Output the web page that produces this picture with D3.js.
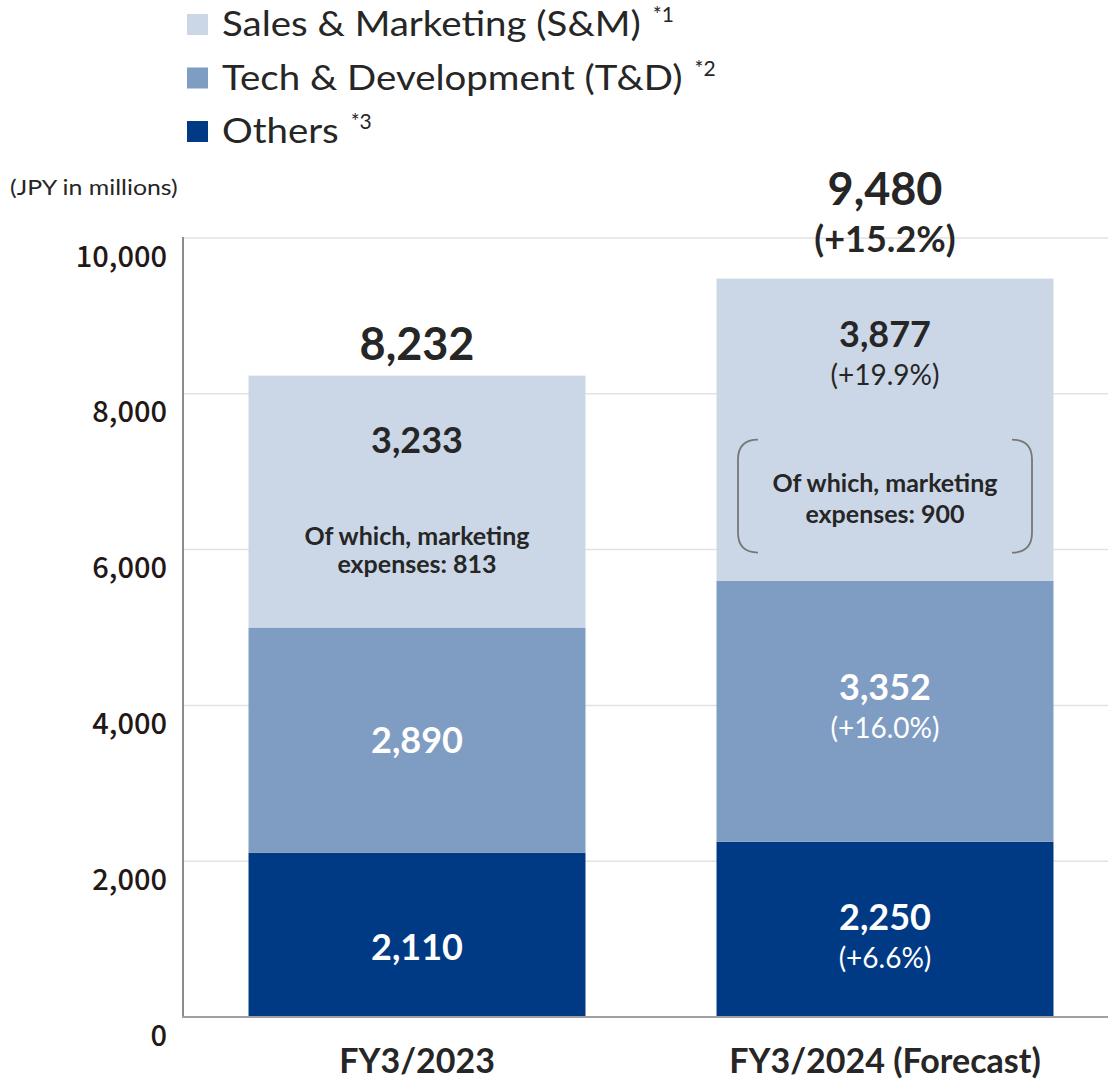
<!DOCTYPE html>
<html>
<head>
<meta charset="utf-8">
<script src="https://cdn.jsdelivr.net/npm/d3@7"></script>
<style>
  html, body { margin: 0; padding: 0; background: #fff; }
  svg { display: block; }
  text { font-family: Lato, "Open Sans", sans-serif; }
</style>
</head>
<body>
<svg id="chart" width="1108" height="1080"></svg>
<script>
// data
const years = ["FY3/2023", "FY3/2024 (Forecast)"];
const others = [2110, 2250];
const techDev = [2890, 3352];
const salesMkt = [3233, 3877];
const totals = [8232, 9480];
const totalGrowth = [null, "(+15.2%)"];
const othersGrowth = [null, "(+6.6%)"];
const techGrowth = [null, "(+16.0%)"];
const salesGrowth = [null, "(+19.9%)"];
const marketing = [813, 900];
const yTicks = [0, 2000, 4000, 6000, 8000, 10000];
const legendNames = ["Sales & Marketing (S&M)", "Tech & Development (T&D)", "Others"];
const legendNotes = ["*1", "*2", "*3"];

const colors = {
    sales: "#cbd7e6",
    tech: "#7f9cc3",
    others: "#013a84"
};
const darkText = "#262626";
// the source font is wider than Lato, stretch plain texts a bit
const stretch = 1.13;

const svg = d3.select("#chart");

const x = d3.scaleBand()
    .domain(years)
    .range([183, 1119])
    .paddingInner(0.28)
    .paddingOuter(0.14);

const y = d3.scaleLinear()
    .domain([0, 10000])
    .range([1017, 238]);

const fmt = d3.format(",");

function widen(sel) {
    sel.each(function () {
        const w = this.getComputedTextLength();
        d3.select(this)
            .attr("textLength", w * stretch)
            .attr("lengthAdjust", "spacingAndGlyphs");
    });
}

// gridlines
svg.append("g")
    .selectAll("line")
    .data(yTicks.filter(d => d > 0))
    .join("line")
    .attr("x1", 184)
    .attr("x2", 1108)
    .attr("y1", d => y(d))
    .attr("y2", d => y(d))
    .attr("stroke", "#e2e2e2")
    .attr("stroke-width", 1.5);

// stacked series
const series = [
    { key: "others", values: others, growth: othersGrowth, color: colors.others, textColor: "#fff", shift: 12 },
    { key: "tech", values: techDev, growth: techGrowth, color: colors.tech, textColor: "#fff", shift: 0 },
    { key: "sales", values: salesMkt, growth: salesGrowth, color: colors.sales, textColor: darkText, shift: 0 }
];

let base = years.map(() => 0);
series.forEach(s => {
    s.segs = years.map((yr, i) => {
        const seg = { year: yr, i, y0: base[i], y1: base[i] + s.values[i], v: s.values[i] };
        base[i] = seg.y1;
        return seg;
    });
});

const bars = svg.append("g");
series.forEach(s => {
    bars.selectAll(null)
        .data(s.segs)
        .join("rect")
        .attr("x", d => x(d.year))
        .attr("width", x.bandwidth())
        .attr("y", d => y(d.y1))
        .attr("height", d => y(d.y0) - y(d.y1))
        .attr("fill", s.color);
});

// axes
const yAxis = svg.append("g")
    .attr("transform", "translate(183,0)")
    .call(d3.axisLeft(y).tickValues(yTicks).tickFormat(fmt).tickSize(0));
yAxis.select(".domain").remove();
yAxis.selectAll(".tick text")
    .attr("x", -16)
    .attr("dy", 28)
    .attr("text-anchor", "end")
    .style("font-family", "'Noto Sans CJK JP', 'Noto Sans', sans-serif")
    .style("font-weight", 500)
    .style("font-size", "29px")
    .attr("fill", "#231815");

svg.append("line")
    .attr("x1", 183).attr("x2", 183)
    .attr("y1", y(10000) - 1).attr("y2", y(0) + 1)
    .attr("stroke", "#8c8c8c").attr("stroke-width", 2);
svg.append("line")
    .attr("x1", 182).attr("x2", 1108)
    .attr("y1", y(0)).attr("y2", y(0))
    .attr("stroke", "#a0a0a0").attr("stroke-width", 2);

const xAxis = svg.append("g")
    .attr("transform", "translate(0," + y(0) + ")")
    .call(d3.axisBottom(x).tickSize(0));
xAxis.select(".domain").remove();
xAxis.selectAll(".tick text")
    .attr("y", 56)
    .attr("dy", 0)
    .style("font-family", "Lato, sans-serif")
    .style("font-weight", 700)
    .style("font-size", "34px")
    .attr("fill", darkText);

// segment labels
const labels = svg.append("g").attr("text-anchor", "middle");
series.forEach(s => {
    s.segs.forEach(d => {
        const cx = x(d.year) + x.bandwidth() / 2;
        const cy = (y(d.y0) + y(d.y1)) / 2;
        const g = s.growth[d.i];
        if (s.key === "sales") {
            if (g) {
                labels.append("text").attr("x", cx).attr("y", cy - 83)
                    .attr("font-size", 36).attr("font-weight", 700).attr("fill", s.textColor)
                    .text(fmt(d.v));
                labels.append("text").attr("x", cx).attr("y", cy - 45)
                    .attr("font-size", 28).attr("fill", s.textColor)
                    .text(g);
                drawBracketNote(cx, cy + 10, marketing[d.i]);
            } else {
                labels.append("text").attr("x", cx).attr("y", cy - 49)
                    .attr("font-size", 36).attr("font-weight", 700).attr("fill", s.textColor)
                    .text(fmt(d.v));
                labels.append("text").attr("x", cx).attr("y", cy + 43)
                    .attr("font-size", 25).attr("font-weight", 700).attr("fill", darkText)
                    .text("Of which, marketing");
                labels.append("text").attr("x", cx).attr("y", cy + 71)
                    .attr("font-size", 25).attr("font-weight", 700).attr("fill", darkText)
                    .text("expenses: " + marketing[d.i]);
            }
        } else if (g) {
            labels.append("text").attr("x", cx).attr("y", cy - 11 + s.shift)
                .attr("font-size", 36).attr("font-weight", 700).attr("fill", s.textColor)
                .text(fmt(d.v));
            labels.append("text").attr("x", cx).attr("y", cy + 27 + s.shift)
                .attr("font-size", 28).attr("fill", s.textColor)
                .text(g);
        } else {
            labels.append("text").attr("x", cx).attr("y", cy + 13 + s.shift)
                .attr("font-size", 36).attr("font-weight", 700).attr("fill", s.textColor)
                .text(fmt(d.v));
        }
    });
});

function drawBracketNote(cx, top, value) {
    const h = 113, halfW = 147, r = 20;
    const gb = labels.append("g");
    // left and right round brackets
    gb.append("path")
        .attr("d", "M" + (cx - halfW + r) + "," + top +
            " Q" + (cx - halfW) + "," + top + " " + (cx - halfW) + "," + (top + r) +
            " L" + (cx - halfW) + "," + (top + h - r) +
            " Q" + (cx - halfW) + "," + (top + h) + " " + (cx - halfW + r) + "," + (top + h))
        .attr("fill", "none").attr("stroke", "#777").attr("stroke-width", 1.8);
    gb.append("path")
        .attr("d", "M" + (cx + halfW - r) + "," + top +
            " Q" + (cx + halfW) + "," + top + " " + (cx + halfW) + "," + (top + r) +
            " L" + (cx + halfW) + "," + (top + h - r) +
            " Q" + (cx + halfW) + "," + (top + h) + " " + (cx + halfW - r) + "," + (top + h))
        .attr("fill", "none").attr("stroke", "#777").attr("stroke-width", 1.8);
    gb.append("text").attr("x", cx).attr("y", top + 52)
        .attr("font-size", 25).attr("font-weight", 700).attr("fill", darkText)
        .text("Of which, marketing");
    gb.append("text").attr("x", cx).attr("y", top + 83)
        .attr("font-size", 25).attr("font-weight", 700).attr("fill", darkText)
        .text("expenses: " + value);
}

// totals
years.forEach((yr, i) => {
    const cx = x(yr) + x.bandwidth() / 2;
    const top = y(base[i]);
    if (totalGrowth[i]) {
        labels.append("text").attr("x", cx).attr("y", top - 74)
            .attr("font-size", 45).attr("font-weight", 700).attr("fill", darkText)
            .text(fmt(totals[i]));
        labels.append("text").attr("x", cx).attr("y", top - 27)
            .attr("font-size", 36).attr("font-weight", 700).attr("fill", darkText)
            .text(totalGrowth[i]);
    } else {
        labels.append("text").attr("x", cx).attr("y", top - 16)
            .attr("font-size", 45).attr("font-weight", 700).attr("fill", darkText)
            .text(fmt(totals[i]));
    }
});

// unit label
svg.append("text")
    .attr("x", 10).attr("y", 195)
    .attr("font-size", 22).attr("fill", darkText)
    .text("(JPY in millions)")
    .call(widen);

// legend
const legendColors = [colors.sales, colors.tech, colors.others];
const legend = svg.append("g")
    .selectAll("g")
    .data(legendNames)
    .join("g")
    .attr("transform", (d, i) => "translate(187," + (36 + i * 53.5) + ")");

legend.append("rect")
    .attr("x", 0).attr("y", -22)
    .attr("width", 21).attr("height", 21)
    .attr("fill", (d, i) => legendColors[i]);

legend.append("text")
    .attr("class", "legend-name")
    .attr("x", 35).attr("y", 0)
    .attr("font-size", 34).attr("fill", darkText)
    .text(d => d)
    .call(widen);

legend.each(function (d, i) {
    const g = d3.select(this);
    const w = +g.select(".legend-name").attr("textLength");
    g.append("text")
        .attr("x", 35 + w + 12).attr("y", -14)
        .attr("font-size", 21).attr("fill", darkText)
        .text(legendNotes[i]);
});
</script>
</body>
</html>
